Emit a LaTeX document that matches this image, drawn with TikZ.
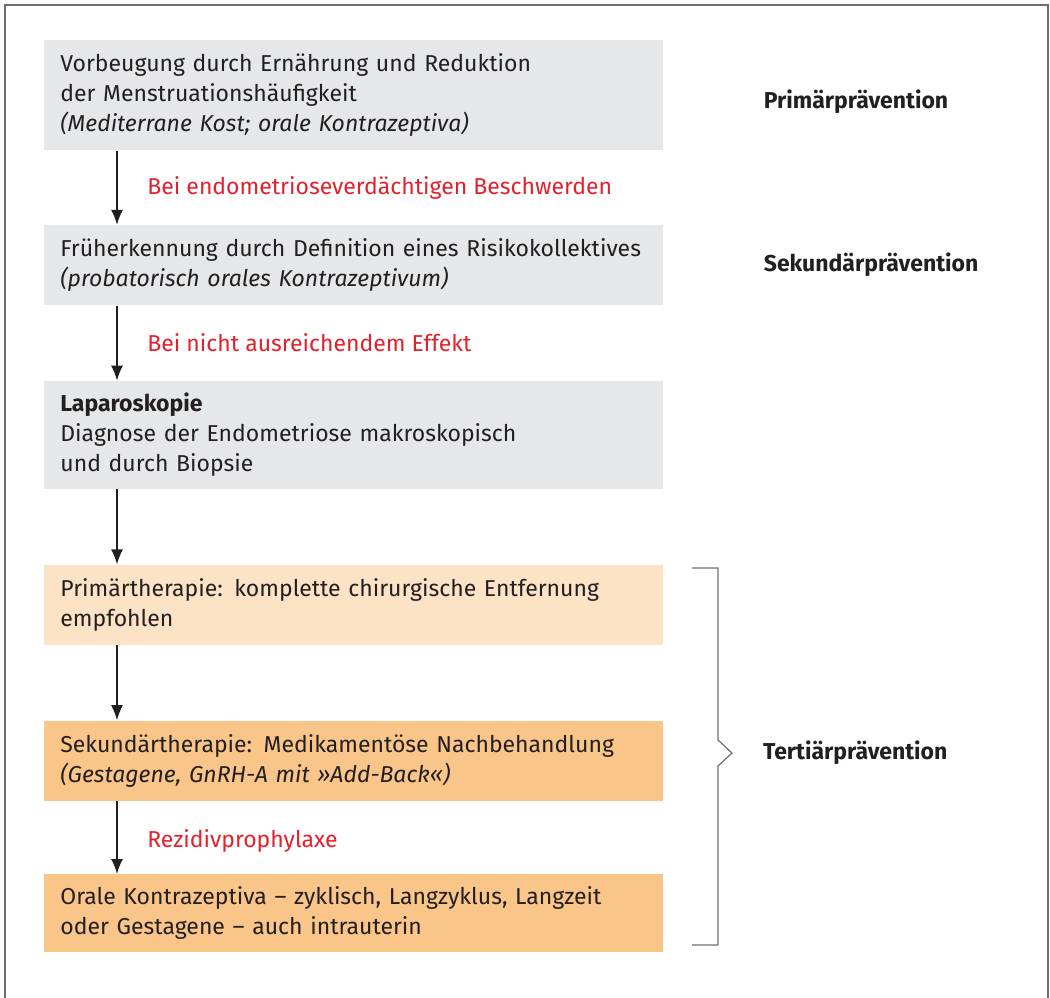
\documentclass[tikz,border=0pt]{standalone}
\usepackage{fontspec}
\setmainfont{Fira Sans}
\usetikzlibrary{positioning,arrows.meta}
\definecolor{boxgray}{HTML}{E6E7E8}
\definecolor{peachlight}{HTML}{FDE3C6}
\definecolor{peach}{HTML}{FAC589}
\definecolor{redtext}{HTML}{E3202B}
\definecolor{inktext}{HTML}{231F20}
\definecolor{framegray}{HTML}{6D6E70}
\begin{document}
\begin{tikzpicture}[
    x=0.5pt, y=-0.5pt,
    every node/.style={font=\fontsize{11.5}{15}\selectfont, text=inktext},
    stage/.style={rectangle, minimum width=309.5pt, text width=293.5pt, inner xsep=8pt, inner ysep=4pt, align=left},
    grey/.style={stage, fill=boxgray},
    light/.style={stage, fill=peachlight},
    strong/.style={stage, fill=peach},
    cond/.style={text=redtext},
    level/.style={font=\fontsize{11.5}{15}\selectfont\bfseries},
    arrow/.style={-{Latex[length=7.5pt,width=6pt]}, draw=inktext, line width=0.7pt},
    bracket/.style={draw=framegray, line width=0.6pt}
]
\useasboundingbox (0,0) rectangle (1050,997);
\draw[framegray, line width=1pt] (5,1010) -- (5,5) -- (1048,5) -- (1048,1010);

% Diagnostics
\node[grey, minimum height=55pt, anchor=north west] (b1) at (44,40)
  {Vorbeugung durch Ernährung und Reduktion\\ der Menstruationshäufigkeit\\ \textit{(Mediterrane Kost; orale Kontrazeptiva)}};
\node[grey, minimum height=40pt, below=37pt of b1] (b2)
  {Früherkennung durch Definition eines Risikokollektives\\ \textit{(probatorisch orales Kontrazeptivum)}};
\node[grey, minimum height=54pt, below=37.5pt of b2] (b3)
  {\textbf{Laparoskopie}\\ Diagnose der Endometriose makroskopisch\\ und durch Biopsie};

% Therapy
\node[light, minimum height=40pt, below=37.5pt of b3] (b4)
  {Primärtherapie: komplette chirurgische Entfernung\\ empfohlen};
\node[strong, minimum height=40pt, below=37.5pt of b4] (b5)
  {Sekundärtherapie: Medikamentöse Nachbehandlung\\ \textit{(Gestagene, GnRH-A mit »Add-Back«)}};
\node[strong, minimum height=39pt, below=36.5pt of b5] (b6)
  {Orale Kontrazeptiva – zyklisch, Langzyklus, Langzeit\\ oder Gestagene – auch intrauterin};

% Arrows
\draw[arrow] ([xshift=36.5pt]b1.south west) -- node[cond, right=11.5pt] (c1) {Bei endometrioseverdächtigen Beschwerden} ([xshift=36.5pt]b2.north west);
\draw[arrow] ([xshift=36.5pt]b2.south west) -- node[cond, right=11.5pt] (c2) {Bei nicht ausreichendem Effekt} ([xshift=36.5pt]b3.north west);
\draw[arrow] ([xshift=36.5pt]b3.south west) -- ([xshift=36.5pt]b4.north west);
\draw[arrow] ([xshift=36.5pt]b4.south west) -- ([xshift=36.5pt]b5.north west);
\draw[arrow] ([xshift=36.5pt]b5.south west) -- node[cond, right=11.5pt, yshift=-1.5pt] (c3) {Rezidivprophylaxe} ([xshift=36.5pt]b6.north west);

% Levels
\node[level, right=46.5pt of b1, yshift=-3pt] (lev1) {Primärprävention};
\node[level, right=46.5pt of b2] (lev2) {Sekundärprävention};
\coordinate (tip) at (732,753);
\draw[bracket] (692,568) -- (718,568) -- (718,740) -- (tip) -- (718,766) -- (718,945) -- (692,945);
\node[level, right=12pt of tip] (lev3) {Tertiärprävention};
\end{tikzpicture}
\end{document}
